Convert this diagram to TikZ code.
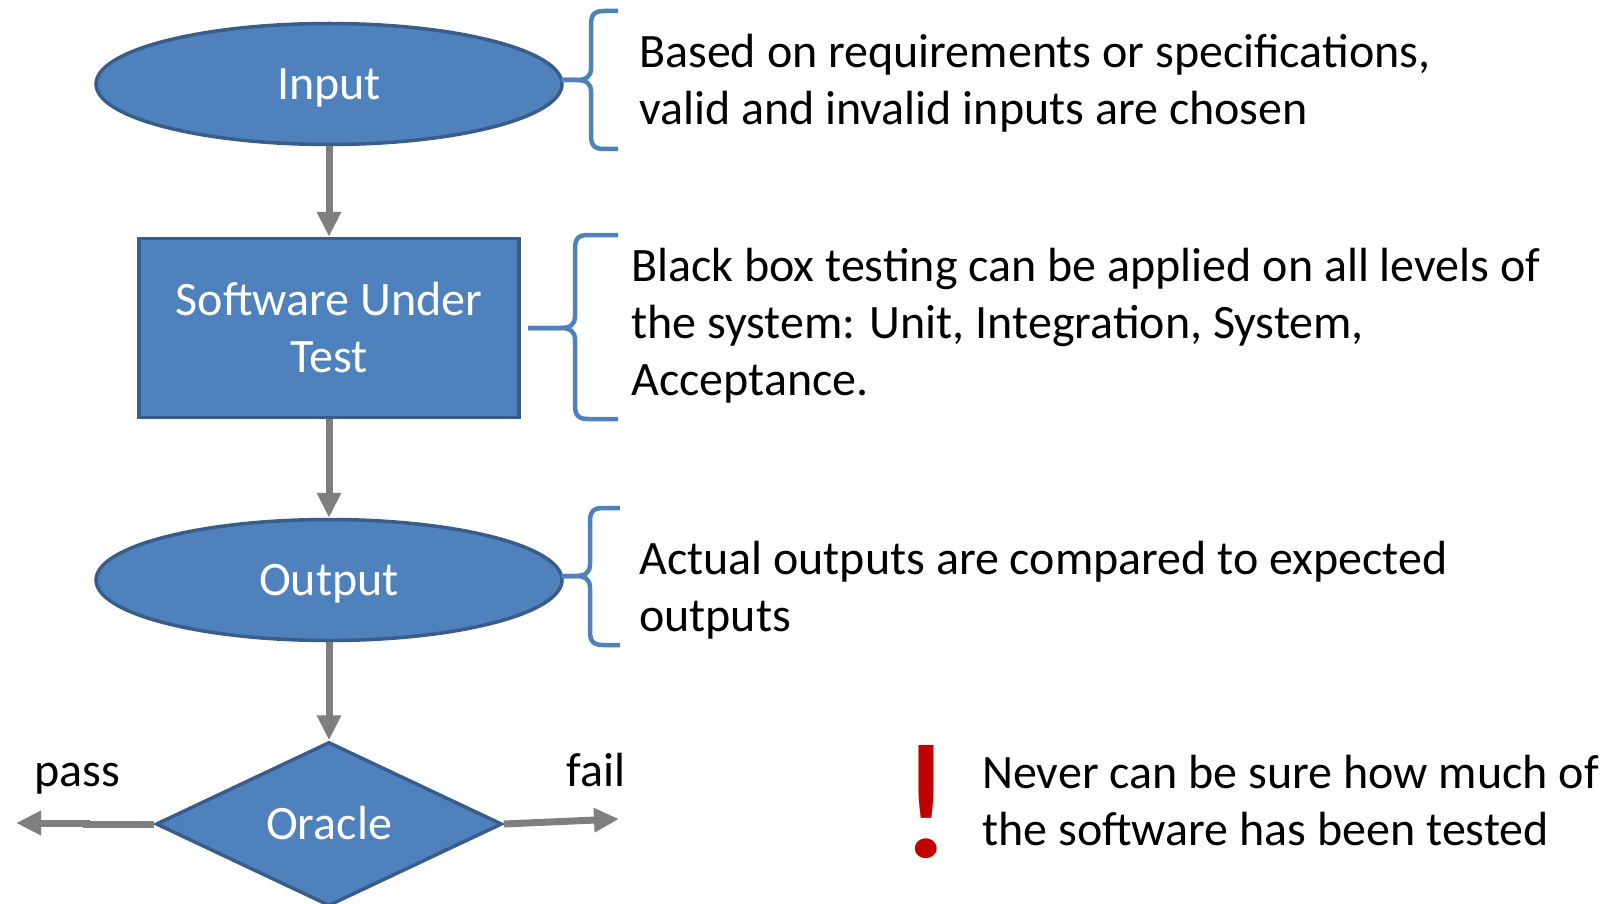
\documentclass[tikz,border=0pt]{standalone}
\usepackage{fontspec}
\setmainfont{Carlito}
\usetikzlibrary{shapes.geometric,arrows.meta}
\definecolor{boxfill}{HTML}{4F81BD}
\definecolor{boxline}{HTML}{385D8A}
\definecolor{arrowgray}{HTML}{7F7F7F}
\definecolor{bracecol}{HTML}{4F81BD}
\definecolor{warnred}{HTML}{C00000}
\newcommand\drawbrace[6]{% #1 xr, #2 xv, #3 xtip, #4 yt, #5 ym, #6 yb
  \draw[bracestyle] (#3,#5) -- ({#2-15},#5) .. controls ({#2-5},#5) and (#2,{#5-3}) .. (#2,{#5-12})
    -- (#2,{#4+14}) .. controls (#2,{#4+4}) and ({#2+3},#4) .. ({#2+13},#4) -- (#1,#4);
  \draw[bracestyle] (#3,#5) -- ({#2-15},#5) .. controls ({#2-5},#5) and (#2,{#5+3}) .. (#2,{#5+12})
    -- (#2,{#6-14}) .. controls (#2,{#6-4}) and ({#2+3},#6) .. ({#2+13},#6) -- (#1,#6);}
\begin{document}
\begin{tikzpicture}[x=1pt,y=-1pt,
  bigfont/.style={font=\fontsize{48}{57}\selectfont},
  shapebase/.style={bigfont, fill=boxfill, draw=boxline, line width=3.5pt, text=white, inner sep=0pt},
  ell/.style={shapebase, ellipse, minimum width=466pt, minimum height=121pt, text height=31pt, text depth=0pt},
  rectbox/.style={shapebase, rectangle, minimum width=380pt, minimum height=179pt, align=center},
  dia/.style={shapebase, diamond, minimum width=346pt, minimum height=164pt, text height=31pt, text depth=0pt},
  flow/.style={draw=arrowgray, line width=7pt, -{Triangle[length=25pt,width=23pt]}},
  bracestyle/.style={draw=bracecol, line width=4.5pt},
  note/.style={bigfont, anchor=base west, align=left, inner sep=0pt},
  lbl/.style={bigfont, anchor=base, inner sep=0pt}
]
\useasboundingbox (0,0) rectangle (1621,904);

\node[ell] (in) at (329,84) {Input};
\node[rectbox] (sut) at (329,328) {Software Under\\Test};
\node[ell] (out) at (329,580) {Output};
\node[dia] (ora) at (329,824) {Oracle};

\draw[flow] (in.south) -- (sut.north);
\draw[flow] (sut.south) -- (out.north);
\draw[flow] (out.south) -- (ora.north);

\coordinate (passkink) at (86,823);
\coordinate (passend) at (16,823);
\coordinate (failend) at (619,819);
\draw[flow] (ora.west) -- (passkink |- ora.west) -- (passkink) -- (passend);
\draw[flow] (ora.east) -- (failend);

\node[lbl] (pass) at (77,786) {pass};
\node[lbl] (fail) at (596,786) {fail};

\drawbrace{618}{591}{561}{11}{80}{149}
\drawbrace{618}{575}{528}{235}{328}{419}
\drawbrace{620}{590}{561}{508}{576}{645}

\node[note] (t1) at (639,125) {Based on requirements or specifications,\\valid and invalid inputs are chosen};
\node[note] (t2) at (631,395) {Black box testing can be applied on all levels of\\the system: Unit, Integration, System,\\Acceptance.};
\node[note] (t3) at (639,631) {Actual outputs are compared to expected\\outputs};
\node[note] (t4) at (982,845) {Never can be sure how much of\\the software has been tested};

\node[anchor=base, inner sep=0pt, text=warnred, font=\fontsize{166}{166}\selectfont, xscale=1.1] (bang) at (926,857) {!};
\end{tikzpicture}
\end{document}
